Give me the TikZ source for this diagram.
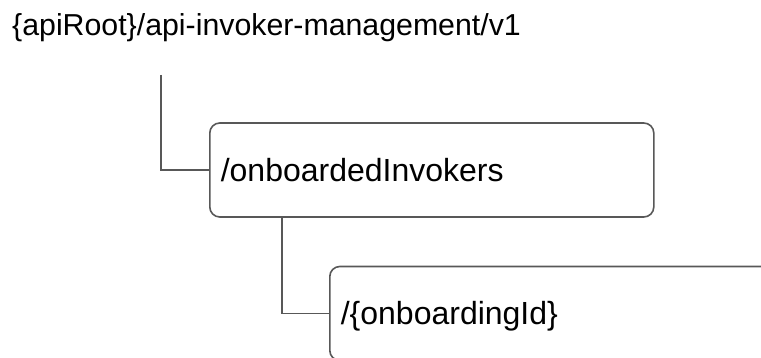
\documentclass[tikz,border=0pt]{standalone}
\usepackage{fontspec}
\setmainfont{Liberation Sans}
\usetikzlibrary{positioning}

\definecolor{linegray}{RGB}{88,88,88}

\tikzset{
  resbox/.style={draw=linegray, line width=1.6pt, rounded corners=10pt,
    minimum height=94pt, inner xsep=11pt, anchor=west,
    text height=23pt, text depth=0pt, align=left,
    font=\fontsize{32}{38}\selectfont},
  branch/.style={draw=linegray, line width=1.6pt}
}

\begin{document}
\begin{tikzpicture}[x=1pt, y=-1pt]
\useasboundingbox (0,0) rectangle (761,358);
\clip (0,0) rectangle (761,358);

% Root path
\node[anchor=base west, inner sep=0pt, font=\fontsize{30.3}{36}\selectfont] (root) at (12,36)
    {\{apiRoot\}/api-invoker-management/v1};

% Resources
\node[resbox, minimum width=444pt, text width=422pt] (invokers) at (209,170) {/onboardedInvokers};
\node[resbox, minimum width=520pt, text width=498pt] (onboarding) at (329,313.5) {/\{onboardingId\}};

% Tree lines
\coordinate (rootstem) at (161,75);
\draw[branch] (rootstem) |- (invokers.west);
\draw[branch] ([xshift=73pt]invokers.south west) |- (onboarding.west);
\end{tikzpicture}
\end{document}
